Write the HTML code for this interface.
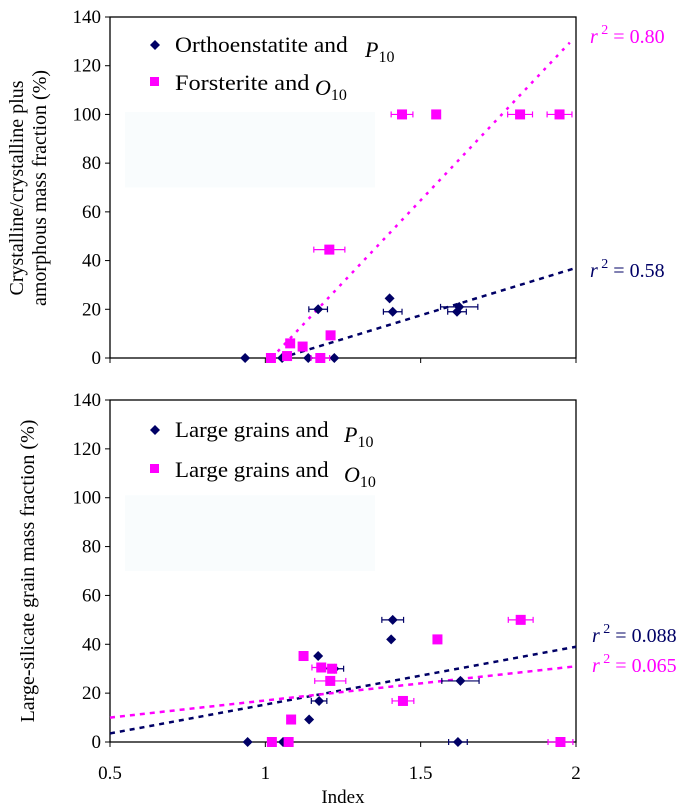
<!DOCTYPE html>
<html><head><meta charset="utf-8">
<style>
body{margin:0;background:#fff;}
svg{display:block;font-family:"Liberation Serif",serif;}
</style></head>
<body>
<svg id="chart" width="686" height="808" viewBox="0 0 686 808"></svg>
<script>
// ---- data ----
const ortX = [0.935,1.054,1.138,1.222,1.17,1.40,1.41,1.624,1.617];
const ortY = [0,0,0,0,20,24.5,19,21,19];
const ortErr = [0,0,0,0,0.03,0,0.03,0.06,0.03];
const forX = [1.018,1.07,1.08,1.12,1.177,1.21,1.206,1.44,1.55,1.82,1.947];
const forY = [0,0.8,6,4.7,0,9.3,44.5,100,100,100,100];
const forErr = [0,0,0,0,0.03,0,0.05,0.035,0,0.04,0.04];
const lgP10X = [0.943,1.057,1.17,1.222,1.173,1.141,1.41,1.405,1.628,1.62];
const lgP10Y = [0,0,35.2,30,16.8,9.2,50,42,25,0];
const lgP10Err = [0,0,0,0.03,0.025,0,0.035,0,0.06,0.03];
const lgO10X = [1.021,1.075,1.083,1.123,1.18,1.215,1.209,1.443,1.554,1.822,1.95];
const lgO10Y = [0,0,9.2,35.2,30.5,30,25,16.8,42,50,0];
const lgO10Err = [0,0,0,0,0.03,0,0.05,0.035,0,0.04,0.04];
const trendTopP = [[1.05,0],[2.0,37]];
const trendTopO = [[1.02,0],[1.98,129.5]];
const trendBotP = [[0.5,3.5],[2.0,39]];
const trendBotO = [[0.5,10],[2.0,31]];
const xTicks = [0.5,1,1.5,2];
const xTickLabels = ["0.5","1","1.5","2"];
const yTicks = [0,20,40,60,80,100,120,140];

const NAVY="#000066", MAG="#ff00ff";
const svg=document.getElementById('chart');
const NS="http://www.w3.org/2000/svg";
function mk(tag,attrs,parent){const e=document.createElementNS(NS,tag);for(const k in attrs)e.setAttribute(k,attrs[k]);(parent||svg).appendChild(e);return e;}
const X0=110,X1=576;
const xs=v=>X0+(v-0.5)/1.5*(X1-X0);

function panel(top,bottom,name){
  const ys=v=>bottom-(v/140)*(bottom-top);
  const g=mk('g',{});
  
  
  const bg=mk('rect',{x:125,y:ys(101),width:250,height:ys(70)-ys(101),fill:'#f9fcfd'},g);
  
  
  const fr=mk('rect',{x:X0,y:top,width:X1-X0,height:bottom-top,fill:'none',stroke:'#000','stroke-width':1.3},g);
  
  
  yTicks.forEach(t=>{
    mk('line',{x1:X0-5,x2:X0,y1:ys(t),y2:ys(t),stroke:'#000'},g);
    const tx=mk('text',{x:X0-9,y:ys(t)+6,'text-anchor':'end','font-size':19},g);
    tx.textContent=t;
    
    
  });
  xTicks.forEach(t=>mk('line',{x1:xs(t),x2:xs(t),y1:bottom,y2:bottom+5,stroke:'#000'},g));
  return {g,ys};
}
function trend(p,pts,col,dash,name){
  const l=mk('line',{x1:xs(pts[0][0]),y1:p.ys(pts[0][1]),x2:xs(pts[1][0]),y2:p.ys(pts[1][1]),stroke:col,'stroke-width':2.5,'stroke-dasharray':dash},p.g);
  
  
}
function series(p,X,Y,E,col,shape,name){
  X.forEach((x,i)=>{
    const cx=xs(x),cy=p.ys(Y[i]);
    if(E[i]>0){
      const x1=xs(x-E[i]),x2=xs(x+E[i]);
      mk('line',{x1,x2,y1:cy,y2:cy,stroke:col,'stroke-width':1.2},p.g);
      mk('line',{x1,x2:x1,y1:cy-3,y2:cy+3,stroke:col,'stroke-width':1.2},p.g);
      mk('line',{x1:x2,x2,y1:cy-3,y2:cy+3,stroke:col,'stroke-width':1.2},p.g);
    }
    let m;
    if(shape==='d') m=mk('polygon',{points:`${cx},${cy-5} ${cx+5},${cy} ${cx},${cy+5} ${cx-5},${cy}`,fill:col},p.g);
    else m=mk('rect',{x:cx-5,y:cy-5,width:10,height:10,fill:col},p.g);
    
    
  });
}
function txt(s,attrs,name){const t=mk('text',attrs);t.innerHTML=s;return t;}

// top panel
const pt=panel(17,358,'top-panel');
trend(pt,trendTopP,NAVY,'5 5','trend-orthoenstatite');
trend(pt,trendTopO,MAG,'3 6','trend-forsterite');
series(pt,ortX,ortY,ortErr,NAVY,'d','orthoenstatite');
series(pt,forX,forY,forErr,MAG,'s','forsterite');
// bottom panel
const pb=panel(400,742,'bottom-panel');
trend(pb,trendBotP,NAVY,'5 5','trend-large-p10');
trend(pb,trendBotO,MAG,'5 5','trend-large-o10');
series(pb,lgP10X,lgP10Y,lgP10Err,NAVY,'d','large-grains-p10');
series(pb,lgO10X,lgO10Y,lgO10Err,MAG,'s','large-grains-o10');

// x tick labels
xTicks.forEach((t,i)=>txt(xTickLabels[i],{x:xs(t),y:779,'text-anchor':'middle','font-size':19},'x-tick-label'));
txt('Index',{x:343,y:803,'text-anchor':'middle','font-size':19},'x-axis-title');

// y titles
txt('Crystalline/crystalline plus',{transform:'translate(23,188) rotate(-90)','text-anchor':'middle','font-size':20},'y-axis-title-top');
txt('amorphous mass fraction (%)',{transform:'translate(46,188) rotate(-90)','text-anchor':'middle','font-size':20},'y-axis-title-top-2');
txt('Large-silicate grain mass fraction (%)',{transform:'translate(34,571) rotate(-90)','text-anchor':'middle','font-size':20},'y-axis-title-bottom');

// legends
function legend(y,col,shape,label,sym,symx,name){
  const g=mk('g',{});
  if(shape==='d') mk('polygon',{points:`155,${y-12} 160,${y-7} 155,${y-2} 150,${y-7}`,fill:col},g);
  else mk('rect',{x:150,y:y-13,width:9,height:9,fill:col},g);
  const t=mk('text',{x:175,y:y,'font-size':22,textLength:label.length*9.6,lengthAdjust:'spacingAndGlyphs'},g);t.textContent=label;
  const s=mk('text',{x:symx,y:y+5,'font-size':22,'font-style':'italic'},g);
  s.innerHTML=sym+'<tspan font-style="normal" font-size="16" dy="5">10</tspan>';
}
legend(52,NAVY,'d','Orthoenstatite and','P',365,'legend-orthoenstatite');
legend(90,MAG,'s','Forsterite and','O',315,'legend-forsterite');
legend(437,NAVY,'d','Large grains and','P',344,'legend-large-p10');
legend(477,MAG,'s','Large grains and','O',344,'legend-large-o10');

// r2 labels
function r2(x,y,col,v,name){txt(`<tspan font-style="italic">r</tspan><tspan font-size="14" dy="-9"> 2</tspan><tspan dy="9"> = ${v}</tspan>`,{x,y,fill:col,'font-size':20},name);}
r2(590,43,MAG,'0.80','r2-forsterite');
r2(590,277,NAVY,'0.58','r2-orthoenstatite');
r2(592,642,NAVY,'0.088','r2-large-p10');
r2(592,672,MAG,'0.065','r2-large-o10');
</script>
</body></html>
